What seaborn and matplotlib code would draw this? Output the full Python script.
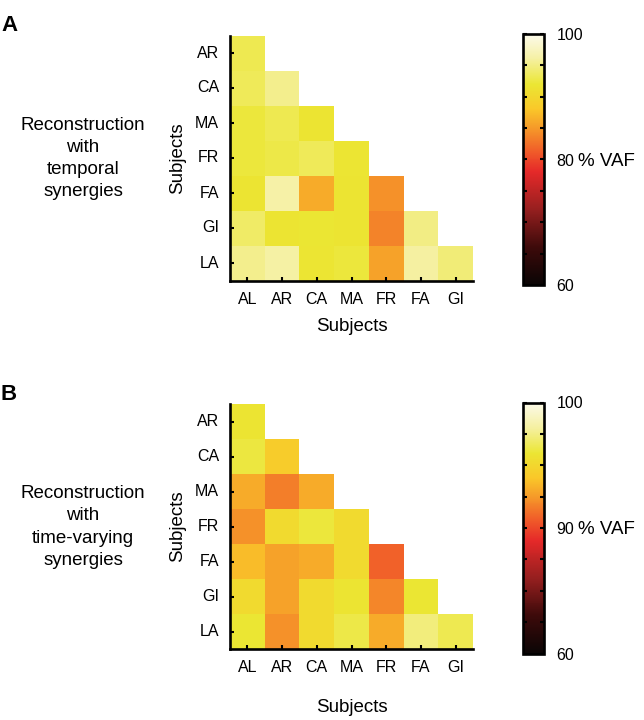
import numpy as np
import pandas as pd
import matplotlib
matplotlib.use("Agg")
import matplotlib.pyplot as plt
import matplotlib.colors as mcolors
import seaborn as sns

# subjects on each axis
row_subjects = ['AR', 'CA', 'MA', 'FR', 'FA', 'GI', 'LA']
col_subjects = ['AL', 'AR', 'CA', 'MA', 'FR', 'FA', 'GI']

# % VAF, lower triangle, one list per row
vaf_temporal = [
    [93.0],
    [93.4, 95.2],
    [92.3, 93.0, 91.6],
    [92.2, 92.7, 93.4, 91.8],
    [91.6, 96.4, 86.2, 91.6, 84.4],
    [93.8, 91.6, 92.0, 91.6, 83.7, 94.9],
    [95.2, 96.2, 91.8, 92.2, 85.6, 96.0, 94.5],
]
vaf_time_varying = [
    [95.8],
    [96.2, 94.3],
    [93.1, 91.7, 93.1],
    [92.2, 95.2, 96.1, 95.2],
    [93.6, 92.8, 93.1, 95.2, 90.8],
    [95.2, 92.8, 95.2, 95.8, 91.9, 96.0],
    [96.0, 92.2, 95.2, 96.4, 93.1, 97.3, 96.5],
]

# colorbar tick labels
cbar_ticks_a = [60, 65, 70, 75, 80, 85, 90, 95, 100]
cbar_labels_a = ['60', '', '', '', '80', '', '', '', '100']
cbar_ticks_b = [60, 67.5, 75, 82.5, 90, 92.5, 95, 97.5, 100]
cbar_labels_b = ['60', '', '', '', '90', '', '', '', '100']

# hot-like colormap, sampled from the reference colorbar
cmap_stops = [0.0, 0.15, 0.30, 0.45, 0.53, 0.62, 0.70, 0.80, 0.90, 1.0]
cmap_colors = ['#0a0505', '#3d0a0a', '#961f1f', '#e52929', '#f05a29',
               '#f59629', '#fac729', '#ebe633', '#f5f0a0', '#fcfaeb']
vaf_cmap = mcolors.LinearSegmentedColormap.from_list('vaf_hot', list(zip(cmap_stops, cmap_colors)))


def to_frame(rows):
    mat = np.full((len(row_subjects), len(col_subjects)), np.nan)
    for i, r in enumerate(rows):
        mat[i, :len(r)] = r
    return pd.DataFrame(mat, index=row_subjects, columns=col_subjects)


plt.rcParams['font.family'] = ['Liberation Sans', 'DejaVu Sans']

W, H = 644, 720
fig = plt.figure(figsize=(W / 100, H / 100), dpi=100)


def panel(top, rows, norm, ticks, labels, letter, desc, xpad):
    ax = fig.add_axes([230 / W, 1 - (top + 245) / H, 243 / W, 245 / H])
    cax = fig.add_axes([523 / W, 1 - (top + 249.5) / H, 21 / W, 251 / H])
    df = to_frame(rows)
    sns.heatmap(df, mask=df.isnull(), cmap=vaf_cmap, norm=norm, ax=ax, cbar_ax=cax)

    # axes styling
    for side in ['left', 'bottom']:
        ax.spines[side].set_visible(True)
        ax.spines[side].set_linewidth(1.9)
        ax.spines[side].set_color('black')
    ax.tick_params(direction='in', length=3, width=1.5, labelsize=11.5, pad=8)
    ax.set_yticklabels(row_subjects, rotation=0)
    ax.set_xticklabels(col_subjects, rotation=0)
    ax.set_xlabel('Subjects', fontsize=13.5, labelpad=xpad)
    ax.set_ylabel('Subjects', fontsize=13.5, labelpad=6)

    # colorbar
    cb = ax.collections[0].colorbar
    cb.outline.set_linewidth(1.9)
    cb.outline.set_edgecolor('black')
    cb.set_ticks(ticks, labels=labels)
    cb.ax.tick_params(direction='in', left=True, right=True, length=3, width=1.5,
                      labelsize=11.5, pad=9)
    cb.ax.minorticks_off()
    fig.text(578 / W, 1 - (top + 126) / H, '% VAF', fontsize=13.5, va='center', ha='left')

    fig.text(1 / W, 1 - (top - 10) / H, letter, fontsize=16, fontweight='bold', va='center')
    fig.text(83 / W, 1 - (top + 123) / H, desc, fontsize=13.5, ha='center', va='center',
             multialignment='center', linespacing=1.4)


panel(35.5, vaf_temporal, mcolors.Normalize(vmin=60, vmax=100), cbar_ticks_a, cbar_labels_a,
      'A', 'Reconstruction\nwith\ntemporal\nsynergies', 8)
panel(404, vaf_time_varying, mcolors.TwoSlopeNorm(vcenter=90, vmin=60, vmax=100), cbar_ticks_b,
      cbar_labels_b, 'B', 'Reconstruction\nwith\ntime-varying\nsynergies', 17)

fig.savefig('out.png', dpi=100)
